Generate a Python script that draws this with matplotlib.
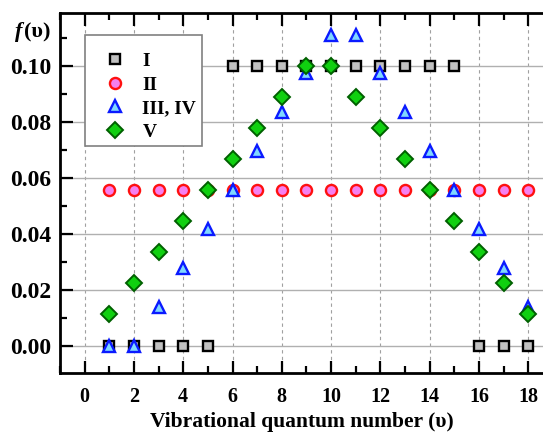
import matplotlib
matplotlib.use("Agg")
import matplotlib.pyplot as plt
from matplotlib.patches import Rectangle
from matplotlib.ticker import MultipleLocator, FormatStrFormatter

# vibrational levels
levels = list(range(1, 19))

dist_I = [0, 0, 0, 0, 0, 0.1, 0.1, 0.1, 0.1, 0.1, 0.1, 0.1, 0.1, 0.1, 0.1, 0, 0, 0]
dist_II = [0.0556] * 18
dist_III_IV = [0, 0, 0.0139, 0.0278, 0.0417, 0.0556, 0.0694, 0.0833, 0.0972,
               0.1111, 0.1111, 0.0972, 0.0833, 0.0694, 0.0556, 0.0417, 0.0278, 0.0139]
dist_V = [0.0111, 0.0222, 0.0333, 0.0444, 0.0556, 0.0667, 0.0778, 0.0889, 0.1,
          0.1, 0.0889, 0.0778, 0.0667, 0.0556, 0.0444, 0.0333, 0.0222, 0.0111]

labels = ["I", "II", "III, IV", "V"]
xticks = [0, 2, 4, 6, 8, 10, 12, 14, 16, 18]

plt.rcParams['font.family'] = ['Liberation Serif', 'DejaVu Serif']
plt.rcParams['font.weight'] = 'bold'

fig = plt.figure(figsize=(5.43, 4.32), dpi=100)
ax = fig.add_axes([0.1105, 0.1366, 0.8895, 0.834])

ax.plot(levels, dist_I, ls='none', marker='s', ms=7, mfc='#c0c0c0', mec='black', mew=1.7, label=labels[0], zorder=3)
ax.plot(levels, dist_II, ls='none', marker='o', ms=8, mfc='#f580f0', mec='#ff1010', mew=1.7, label=labels[1], zorder=3)
ax.plot(levels, dist_III_IV, ls='none', marker='^', ms=9, mfc='#80d8ff', mec='#0a1aff', mew=1.7, label=labels[2], zorder=4)
ax.plot(levels, dist_V, ls='none', marker='D', ms=8.5, mfc='#10d010', mec='#006000', mew=1.4, label=labels[3], zorder=5)

ax.set_xlim(-1, 18.6)
ax.set_ylim(-0.0098, 0.1189)
ax.set_xticks(xticks)
ax.xaxis.set_minor_locator(MultipleLocator(1))
ax.yaxis.set_major_locator(MultipleLocator(0.02))
ax.yaxis.set_minor_locator(MultipleLocator(0.01))
ax.yaxis.set_major_formatter(FormatStrFormatter('%.2f'))

ax.tick_params(which='both', direction='in', top=True, right=False, width=1.6)
ax.tick_params(which='major', length=9)
ax.tick_params(which='minor', length=5)
ax.tick_params(axis='x', labelsize=14.5, pad=10)
ax.tick_params(axis='y', labelsize=17, pad=6)
for lab in ax.get_xticklabels() + ax.get_yticklabels():
    lab.set_fontweight('bold')

for s in ['left', 'bottom', 'top']:
    ax.spines[s].set_linewidth(2)
ax.spines['right'].set_visible(False)

ax.grid(axis='y', which='major', color='#b0b0b0', ls='-', lw=1)
ax.grid(axis='x', which='major', color='#a0a0a0', ls=(0, (3, 3)), lw=0.8)
ax.set_axisbelow(True)

ax.set_xlabel("Vibrational quantum number (\u03c5)", fontsize=15.5, fontweight='bold', labelpad=4)

fig.text(0.027, 0.914, "f", fontsize=16, fontweight='bold', style='italic', ha='left', va='baseline')
fig.text(0.045, 0.914, "(\u03c5)", fontsize=16, fontweight='bold', ha='left', va='baseline')

# legend frame drawn by hand, entries sit a bit low inside it
ax.add_patch(Rectangle((0.0518, 0.630), 0.2422, 0.308, transform=ax.transAxes,
                       facecolor='white', edgecolor='#808080', lw=1.2, zorder=6))
leg = ax.legend(loc='upper left', bbox_to_anchor=(0.052, 0.916), frameon=False,
                borderpad=0.5, labelspacing=0.3, handlelength=2.1, handletextpad=0.35,
                borderaxespad=0, prop={'weight': 'bold', 'size': 14})
leg.set_zorder(7)

fig.savefig("out.png", dpi=100)
